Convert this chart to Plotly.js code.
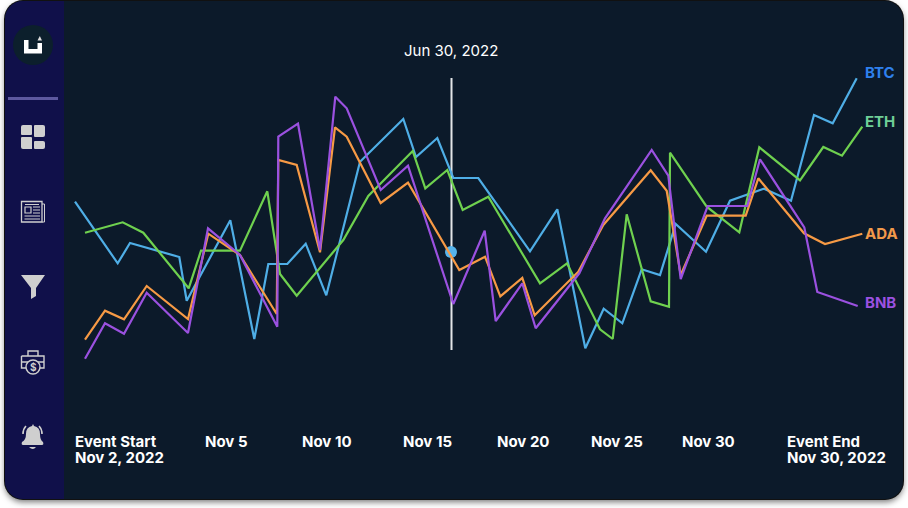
<!DOCTYPE html>
<html><head><meta charset="utf-8">
<script src="https://cdn.plot.ly/plotly-3.0.1.min.js"></script>
<style>
html,body{margin:0;padding:0;background:#fff;width:908px;height:508px;overflow:hidden}
#card{position:absolute;left:5px;top:1px;width:898px;height:498px;border-radius:18px;background:#0C1A2A;box-shadow:0 0 0 1px #111,0 3px 6px rgba(0,0,0,.55);overflow:hidden}
#side{position:absolute;left:0;top:0;width:59px;height:100%;background:#10104A}
#chart{position:absolute;left:0;top:0;width:908px;height:508px}
</style></head><body>
<div id="card"><div id="side"></div></div>
<div id="chart"></div>
<script>
// x = horizontal chart position, y = value on an inverted chart scale, both
const btcX=[75,117.7,130,179.3,186.7,230.3,254.3,268.3,287.3,305.7,326.3,340,360,403.3,416,437.3,453.3,478.3,530,557.3,585.3,603.7,622.3,641.7,660,675.7,706,730,764,791,814,832.7,856.7];
const btcY=[201.7,263.3,243,257,300.7,220.3,339,264,264,243.7,295.3,241.7,161.7,119,157,138,178,178,251.3,209.3,348.3,308.7,323.3,269.3,275,224,251.7,200.7,188.7,200.7,115,123.3,78.3];
const ethX=[85,122.7,143.3,188.7,201,240,267.3,280,296.7,343.3,368.3,412.7,425.3,447.3,462.7,488.3,540,567,600,612.7,626.7,650.7,669,670,706.7,739.3,759.3,800,823.3,842,862.3];
const ethY=[232.7,222.3,232.7,288.3,250.7,250.7,191.3,274,295.7,240,196,151,188.3,170,210,196.7,283.3,263.3,329.3,339,214.3,301.3,306.7,152.7,206.7,232.3,147.3,180.3,147,155.7,126.7];
const adaX=[85,105,124,146.7,188,208.3,240,276.7,278.3,296.7,320,335,346.7,380.7,408,459.3,485,500.3,522.3,534.7,578.3,603.3,650.7,666.7,680.7,706.7,745.7,758.3,804,825,862.3];
const adaY=[339.7,310.7,319.3,286,319,233.7,255,314,160,165,252.3,127.3,136.7,203,182.7,270,256.7,296.3,278,315.3,271.7,225,170.3,190.7,275,215.7,215.7,178.3,233.3,244,233.7];
const bnbX=[85,105,124,146.7,188,208,240,277.3,278.3,298,320,335.3,346.7,380.7,408,453.3,484.7,495.7,522.3,535.7,579.3,605,651.7,668.3,680.7,707.7,747.3,760,804.3,817.3,857.7];
const bnbY=[358.7,323.3,333.7,292.7,333,228.3,255,326.7,136.7,123.7,250,96.7,108.3,190,165.7,304,230.7,321,283.3,328.3,273.3,218.3,150,175.7,279,206,206,159.3,227.3,292,306];
const hoverX=[451.5,451.5];
const hoverY=[78,350];
const markerX=[451];
const markerY=[252];
const tickX=[226,327,427,523,617,708];
const tickLabels=['Nov 5','Nov 10','Nov 15','Nov 20','Nov 25','Nov 30'];
const eventLabels=['Event Start','Nov 2, 2022','Event End','Nov 30, 2022'];
const eventX=[75,75,787,787];
const eventY=[441,457,441,457];
const seriesNames=['BTC','ETH','ADA','BNB'];
const lineColors=['#4FAEE6','#6FD14F','#F79A45','#9B51E0'];
const labelColors=['#2F80ED','#6FCF97','#F2994A','#9B51E0'];
const labelX=[865,865,865,865];
const labelY=[72,121,233,302];
const F='Inter, "Open Sans", sans-serif';
const xs=[btcX,ethX,adaX,bnbX], ys=[btcY,ethY,adaY,bnbY];
const traces=[
 {x:hoverX,y:hoverY,mode:'lines',line:{color:'#E4E6E8',width:2},hoverinfo:'skip'},
 {x:markerX,y:markerY,mode:'markers',marker:{color:'#56B4EC',size:12},hoverinfo:'skip'}
];
seriesNames.forEach((n,i)=>traces.push({name:n,x:xs[i],y:ys[i],mode:'lines',line:{color:lineColors[i],width:2.2}}));
const ico='#CFCFCF';
const shapes=[
 {type:'circle',x0:13,x1:53,y0:25,y1:65,fillcolor:'#0C1F2C',line:{width:0}},
 {type:'path',path:'M24,40 H28.5 V49 H37.5 V43 H42 V53.5 H24 Z',fillcolor:'#fff',line:{width:0}},
 {type:'path',path:'M37.5,40.5 L39.8,36 L42,40.5 Z',fillcolor:'#ddd',line:{width:0}},
 {type:'rect',x0:8,x1:58,y0:97,y1:100,fillcolor:'#5D589F',line:{width:0}},
 // dashboard
 {type:'path',path:'M23,125 H31 Q32,125 32,126 V134 Q32,135 31,135 H22 Q21,135 21,134 V127 Q21,125 23,125 Z',fillcolor:ico,line:{width:0}},
 {type:'path',path:'M35,125 H43 Q45,125 45,127 V135 Q45,137 43,137 H35 Q34,137 34,136 V126 Q34,125 35,125 Z',fillcolor:ico,line:{width:0}},
 {type:'path',path:'M22,137 H31 Q32,137 32,138 V149 H23 Q21,149 21,147 V138 Q21,137 22,137 Z',fillcolor:ico,line:{width:0}},
 {type:'path',path:'M35,141 H43 Q45,141 45,143 V147 Q45,149 43,149 H35 Q34,149 34,148 V142 Q34,141 35,141 Z',fillcolor:ico,line:{width:0}},
 // news
 {type:'path',path:'M21.5,201.5 H42 V222 H21.5 Z',line:{color:ico,width:1.3},fillcolor:'rgba(0,0,0,0)'},
 {type:'path',path:'M42,204 H44.5 V222 H42',line:{color:ico,width:1},fillcolor:'rgba(0,0,0,0)'},
 {type:'rect',x0:25,x1:31,y0:207,y1:213,line:{color:ico,width:1.2},fillcolor:'rgba(0,0,0,0)'},
 {type:'path',path:'M33,207 H40 M33,210 H40 M33,213 H40 M24.5,216 H40 M24.5,219 H40 M25,204.5 H39',line:{color:ico,width:1.1}},
 // funnel
 {type:'path',path:'M21,275 H45 L36,288 V296 L31,299 V288 Z',fillcolor:ico,line:{width:0}},
 // briefcase
 {type:'path',path:'M21.5,356 H44 V368 H40 M21.5,356 V368 H26 M28,356 V351 H38 V356 M21.5,362 H28 M38,362 H44',line:{color:ico,width:1.4},fillcolor:'rgba(0,0,0,0)'},
 {type:'circle',x0:26,x1:40,y0:360,y1:374,line:{color:ico,width:1.4},fillcolor:'#10104A'},
 // bell
 {type:'path',path:'M22,442 Q26,440 26,434 Q26,427 32,426 L33,424 L34,426 Q40,427 40,434 Q40,440 43,442 Q44,445 42,445 H23 Q21,445 22,442 Z',fillcolor:ico,line:{width:0}},
 {type:'path',path:'M29,447 H36 Q33,451 29,447 Z',fillcolor:ico,line:{width:0}},
 {type:'path',path:'M23,434 Q23,429 26,426 M42,434 Q42,429 39,426',line:{color:ico,width:1.6}}
];
shapes.forEach(s=>{s.xref='x';s.yref='y';s.layer='below';});
const annotations=[
 {x:451,y:50,text:'Jun 30, 2022',showarrow:false,font:{family:F,size:15,color:'#fff'}},
 {x:33,y:367,text:'<b>$</b>',showarrow:false,font:{family:F,size:10,color:ico}}
];
eventLabels.forEach((t,i)=>annotations.push({x:eventX[i]-2,y:eventY[i],xanchor:'left',text:'<b>'+t+'</b>',showarrow:false,font:{family:F,size:15,color:'#fff'}}));
seriesNames.forEach((n,i)=>annotations.push({x:labelX[i]-2,y:labelY[i],xanchor:'left',text:'<b>'+n+'</b>',showarrow:false,font:{family:F,size:15,color:labelColors[i]}}));
tickLabels.forEach((t,i)=>annotations.push({x:tickX[i],y:441,text:'<b>'+t+'</b>',showarrow:false,font:{family:F,size:15,color:'#fff'}}));
const layout={
 width:908,height:508,margin:{l:0,r:0,t:0,b:0},showlegend:false,
 paper_bgcolor:'rgba(0,0,0,0)',plot_bgcolor:'rgba(0,0,0,0)',
 xaxis:{range:[0,908],visible:false,fixedrange:true},
 yaxis:{range:[508,0],visible:false,fixedrange:true},
 shapes,annotations,hovermode:false
};
Plotly.newPlot('chart',traces,layout,{displayModeBar:false,staticPlot:true});
</script></body></html>
